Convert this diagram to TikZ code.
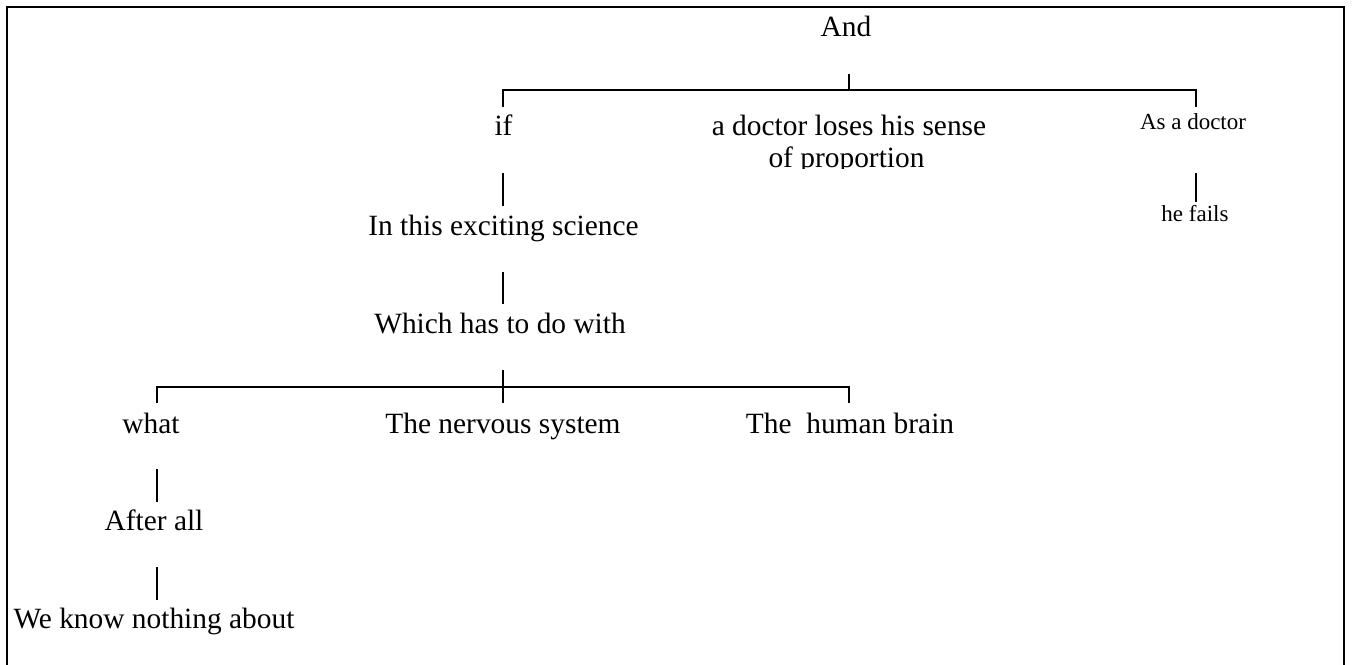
\documentclass[tikz,border=0pt]{standalone}
\usepackage{fontspec}
\setmainfont{Liberation Serif}
\usetikzlibrary{calc}

\tikzset{
  lbl/.style={anchor=base, inner sep=0pt, font=\fontsize{14.7}{17}\selectfont},
  lblsmall/.style={anchor=base, inner sep=0pt, font=\fontsize{11.5}{14}\selectfont},
  link/.style={line width=0.6pt, black},
  frame/.style={line width=1.2pt, black}
}

\begin{document}
\begin{tikzpicture}[x=0.5pt, y=-0.5pt]
  \useasboundingbox (0,0) rectangle (1352,664);
  \clip (0,0) rectangle (1352,664);

  % outer frame (open at the bottom edge of the page)
  \draw[frame] (7,700) -- (7,7) -- (1344,7) -- (1344,700);

  % labels
  \node[lbl] (and)   at (846,36)    {And};
  \node[lbl] (if)    at (503.5,135) {if};
  \node[lbl] (loses) at (849,135)   {a doctor loses his sense};
  \begin{scope}
    \clip (600,140) rectangle (1100,168);
    \node[lbl] (prop) at (846.5,167) {of proportion};
  \end{scope}
  \node[lblsmall] (asdoc) at (1193,129) {As a doctor};
  \node[lblsmall] (fails) at (1195,221) {he fails};
  \node[lbl] (sci)   at (503.5,235) {In this exciting science};
  \node[lbl] (which) at (500,333)   {Which has to do with};
  \node[lbl] (what)  at (151,433)   {what};
  \node[lbl] (nerv)  at (503,433)   {The nervous system};
  \node[lbl] (brain) at (850,433)   {The\ \ human brain};
  \node[lbl] (after) at (154,530)   {After all};
  \node[lbl] (know)  at (154,628)   {We know nothing about};

  % upper bracket
  \coordinate (top) at ($(and.base)+(3,54)$);
  \draw[link] ($(and.base)+(3,38)$) -- (top);
  \draw[link] ($(if.base)+(-0.5,-28)$) |- (top) -| ($(asdoc.base)+(3,-22)$);
  \draw[link] ($(asdoc.base)+(3,44)$) -- ($(fails.base)+(1,-19)$);

  % chain under "if"
  \draw[link] ($(if.base)+(-0.5,38)$) -- ($(sci.base)+(-0.5,-29)$);
  \draw[link] ($(sci.base)+(-0.5,37)$) -- ($(which.base)+(3,-29)$);

  % lower bracket
  \coordinate (mid) at ($(which.base)+(3,54)$);
  \draw[link] ($(which.base)+(3,37)$) -- ($(nerv.base)+(0,-30)$);
  \draw[link] ($(what.base)+(6,-30)$) |- (mid) -| ($(brain.base)+(-1,-30)$);

  % chain under "what"
  \draw[link] ($(what.base)+(6,36)$) -- ($(after.base)+(3,-28)$);
  \draw[link] ($(after.base)+(3,37)$) -- ($(know.base)+(3,-28)$);
\end{tikzpicture}
\end{document}
